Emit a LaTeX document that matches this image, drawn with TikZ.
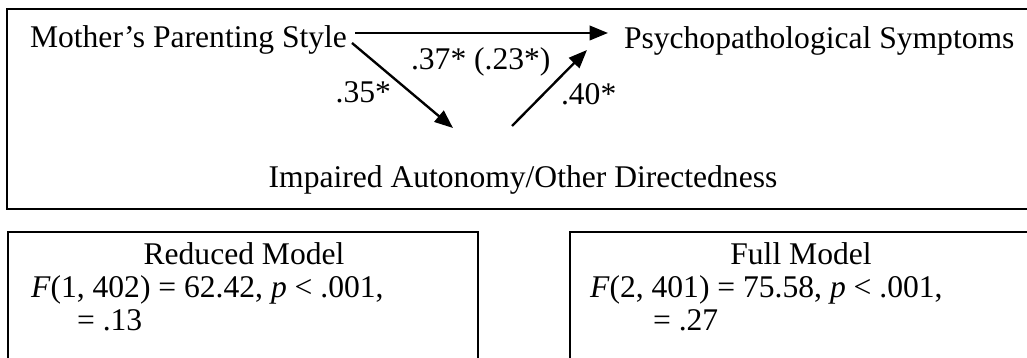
\documentclass[tikz,border=0pt]{standalone}
\usepackage{fontspec}
\setmainfont{Liberation Serif}
\usetikzlibrary{arrows.meta,calc}

\begin{document}
\begin{tikzpicture}[x=0.38pt, y=-0.38pt, line width=0.8pt,
    txt/.style={inner sep=0pt, font=\fontsize{12}{14}\selectfont},
    path/.style={line width=0.9pt, -{Triangle[length=7pt, width=5.5pt]}}]
  \useasboundingbox (0,0) rectangle (1027,358);
  % frames: top one runs off to the right, lower two run off the bottom
  \draw (1027,9) -- (7,9) -- (7,209) -- (1027,209);
  \draw (8,358) -- (8,232) -- (478,232) -- (478,358);
  \draw (570,358) -- (570,232) -- (1027,232);
  % variables
  \node[txt, anchor=base west] (mps) at (29,48) {Mother’s Parenting Style};
  \node[txt, anchor=base west] (psy) at (623,49) {Psychopathological Symptoms};
  \node[txt, anchor=base] (iad) at (523,188) {Impaired Autonomy/Other Directedness};
  % arrow ends
  \coordinate (c0) at (355,33);
  \coordinate (c1) at (608,33);
  \coordinate (a0) at (352,43);
  \coordinate (a1) at (453,128);
  \coordinate (b0) at (512,126);
  \coordinate (b1) at (587,50);
  \draw[path] (c0) -- (c1);
  \draw[path] (a0) -- (a1);
  \draw[path] (b0) -- (b1);
  % coefficients
  \node[txt, anchor=base west] (lc) at (410,70) {.37* (.23*)};
  \node[txt, anchor=base east] (la) at (392,103) {.35*};
  \node[txt, anchor=base west] (lb) at (560,105) {.40*};
  % model boxes
  \node[txt, anchor=base] (rm) at (244,265) {Reduced Model};
  \node[txt, anchor=base west] (rf) at (30,298) {\textit{F}(1, 402) = 62.42, \textit{p} < .001,};
  \node[txt, anchor=base west] (rr) at (76,331) {= .13};
  \node[txt, anchor=base] (fm) at (801,265) {Full Model};
  \node[txt, anchor=base west] (ff) at (589,298) {\textit{F}(2, 401) = 75.58, \textit{p} < .001,};
  \node[txt, anchor=base west] (fr) at (652,331) {= .27};
\end{tikzpicture}
\end{document}
